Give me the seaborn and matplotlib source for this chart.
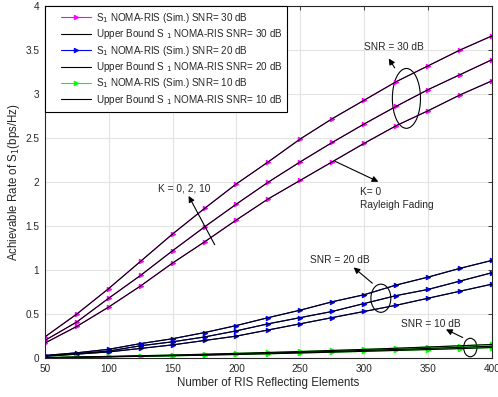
import numpy as np
import pandas as pd
import matplotlib
matplotlib.use("Agg")
import matplotlib.pyplot as plt
import seaborn as sns
from matplotlib.patches import Ellipse
from matplotlib.lines import Line2D
from matplotlib.legend_handler import HandlerLine2D

# ---------------------------
# Data
# ---------------------------
n_elements = [50, 75, 100, 125, 150, 175, 200, 225, 250, 275, 300, 325, 350, 375, 400]

# SNR = 30 dB, K = 10, 2, 0
snr30_k10 = [0.24, 0.50, 0.79, 1.10, 1.41, 1.70, 1.98, 2.23, 2.49, 2.72, 2.93, 3.14, 3.32, 3.50, 3.66]
snr30_k2 = [0.20, 0.41, 0.68, 0.94, 1.22, 1.49, 1.75, 2.00, 2.23, 2.45, 2.66, 2.86, 3.05, 3.22, 3.39]
snr30_k0 = [0.17, 0.36, 0.58, 0.82, 1.08, 1.32, 1.57, 1.81, 2.02, 2.23, 2.44, 2.64, 2.81, 2.99, 3.15]

# SNR = 20 dB
snr20_k10 = [0.03, 0.06, 0.10, 0.165, 0.22, 0.29, 0.37, 0.46, 0.545, 0.64, 0.72, 0.83, 0.92, 1.02, 1.11]
snr20_k2 = [0.025, 0.05, 0.08, 0.14, 0.185, 0.24, 0.31, 0.39, 0.46, 0.53, 0.62, 0.71, 0.78, 0.875, 0.97]
snr20_k0 = [0.02, 0.045, 0.07, 0.11, 0.15, 0.20, 0.25, 0.32, 0.39, 0.46, 0.53, 0.60, 0.68, 0.76, 0.84]

# SNR = 10 dB
snr10_k10 = [0.006, 0.012, 0.019, 0.027, 0.035, 0.044, 0.054, 0.064, 0.075, 0.087, 0.099, 0.112, 0.126, 0.140, 0.155]
snr10_k2 = [0.005, 0.010, 0.016, 0.023, 0.030, 0.038, 0.047, 0.056, 0.066, 0.076, 0.087, 0.098, 0.110, 0.122, 0.135]
snr10_k0 = [0.004, 0.009, 0.014, 0.020, 0.026, 0.033, 0.041, 0.049, 0.058, 0.067, 0.077, 0.087, 0.097, 0.108, 0.120]

groups = [
    ("30", "#ff00ff", [snr30_k10, snr30_k2, snr30_k0]),
    ("20", "#0000ff", [snr20_k10, snr20_k2, snr20_k0]),
    ("10", "#00ff00", [snr10_k10, snr10_k2, snr10_k0]),
]

# ---------------------------
# Style
# ---------------------------
sns.set_theme(style="whitegrid")
plt.rcParams["font.family"] = ["Liberation Sans", "DejaVu Sans"]
plt.rcParams["axes.edgecolor"] = "#262626"
plt.rcParams["axes.linewidth"] = 0.8
plt.rcParams["grid.color"] = "#e3e3e3"
plt.rcParams["grid.linewidth"] = 0.8

fig = plt.figure(figsize=(4.98, 3.97), dpi=100)
ax = fig.add_axes([0.09, 0.098, 0.898, 0.887])

# ---------------------------
# Curves
# ---------------------------
for snr, col, series in groups:
    for i, vals in enumerate(series):
        df = pd.DataFrame({"N": n_elements, "rate": vals})
        sns.lineplot(data=df, x="N", y="rate", ax=ax, color=col, marker=">",
                     markersize=3.2, markeredgecolor=col, linewidth=0.8,
                     label=f"S$_1$ NOMA-RIS (Sim.) SNR= {snr} dB" if i == 0 else None)
    for i, vals in enumerate(series):
        df = pd.DataFrame({"N": n_elements, "rate": vals})
        sns.lineplot(data=df, x="N", y="rate", ax=ax, color="black", linewidth=0.8,
                     label=f"Upper Bound S $_1$ NOMA-RIS SNR= {snr} dB" if i == 0 else None)

# ---------------------------
# Annotations
# ---------------------------
arrow = dict(arrowstyle="-|>", color="black", lw=0.8, mutation_scale=9)
fs = 7.3

ax.add_patch(Ellipse((333, 2.95), 22, 0.68, fill=False, color="black", lw=0.8))
ax.annotate("", xy=(318, 3.43), xytext=(325, 3.27), arrowprops=arrow)
ax.text(323, 3.53, "SNR = 30 dB", ha="center", va="center", fontsize=fs)

ax.annotate("", xy=(313, 1.99), xytext=(275, 2.25), arrowprops=arrow)
ax.text(297, 1.89, "K= 0", ha="left", va="center", fontsize=fs)
ax.text(297, 1.74, "Rayleigh Fading", ha="left", va="center", fontsize=fs)

ax.annotate("", xy=(161.5, 1.87), xytext=(184, 1.26), arrowprops=arrow)
ax.text(159, 1.93, "K = 0, 2, 10", ha="center", va="center", fontsize=fs)

ax.add_patch(Ellipse((313, 0.68), 15.6, 0.32, fill=False, color="black", lw=0.8))
ax.annotate("", xy=(290, 1.05), xytext=(308, 0.83), arrowprops=arrow)
ax.text(281, 1.11, "SNR = 20 dB", ha="center", va="center", fontsize=fs)

ax.add_patch(Ellipse((383, 0.12), 10.4, 0.21, fill=False, color="black", lw=0.8))
ax.annotate("", xy=(362, 0.34), xytext=(379, 0.22), arrowprops=arrow)
ax.text(352, 0.39, "SNR = 10 dB", ha="center", va="center", fontsize=fs)

# ---------------------------
# Axes
# ---------------------------
ax.set_xlim(50, 400)
ax.set_ylim(0, 4)
ax.set_xticks(range(50, 401, 50))
ax.set_yticks(np.arange(0, 4.01, 0.5))
ax.set_yticklabels(["0", "0.5", "1", "1.5", "2", "2.5", "3", "3.5", "4"])
ax.tick_params(direction="in", length=3, width=0.6, labelsize=7.2, colors="#262626",
               top=True, right=True)
ax.tick_params(axis="x", pad=4.5)
ax.tick_params(axis="y", pad=4)
ax.set_xlabel("Number of RIS Reflecting Elements", fontsize=8.3, color="#262626", labelpad=2)
ax.set_ylabel("Achievable Rate of S$_1$(bps/Hz)", fontsize=8.3, color="#262626", labelpad=2)

leg = ax.legend(loc="upper left", fontsize=7.1, frameon=True, fancybox=False,
                borderaxespad=0.0, handlelength=4.2, labelspacing=0.24,
                borderpad=0.5, handletextpad=0.45,
                handler_map={Line2D: HandlerLine2D(xpad=1.1)})
leg.get_frame().set_edgecolor("black")
leg.get_frame().set_linewidth(0.8)
leg.get_frame().set_alpha(1)

fig.savefig("out.png", dpi=100)
